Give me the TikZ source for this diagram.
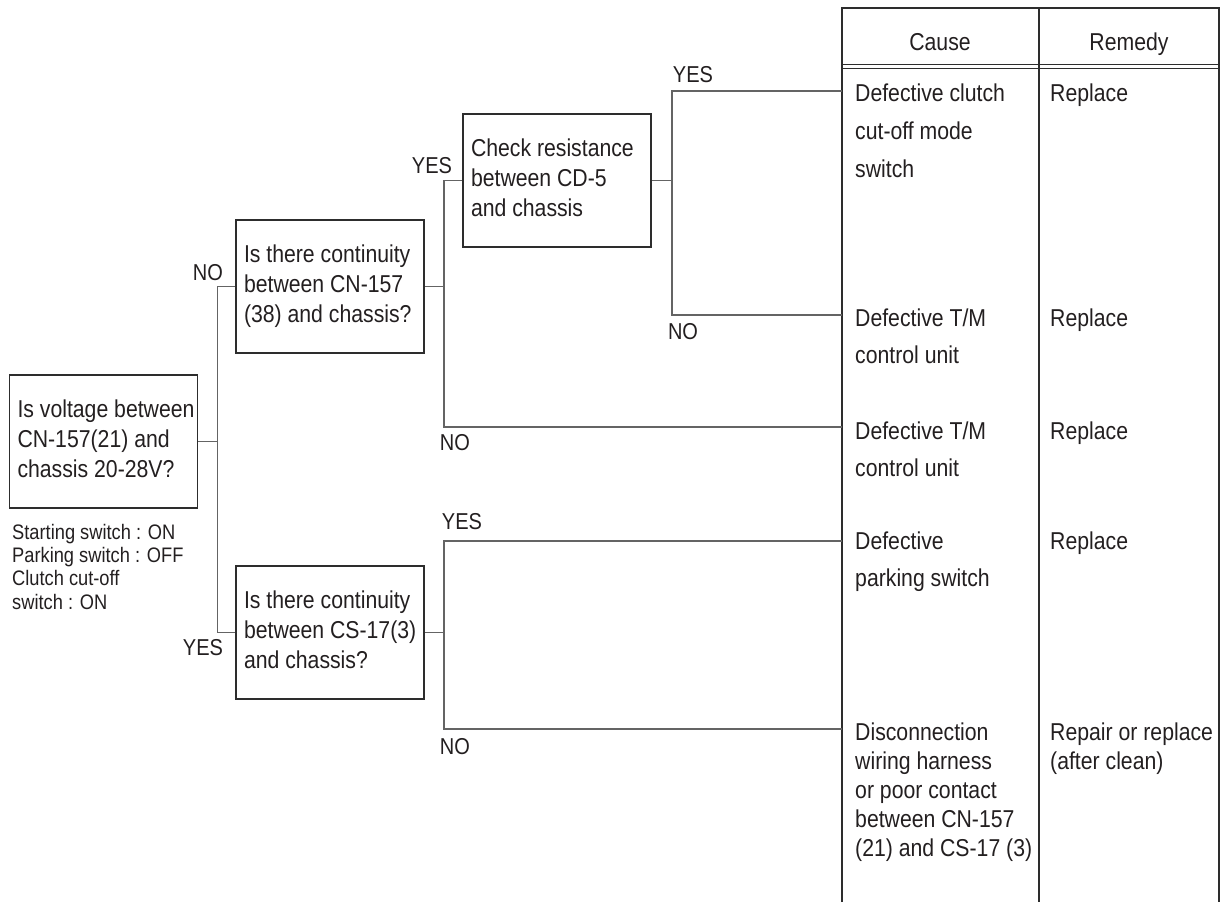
\documentclass[tikz,border=0pt]{standalone}
\usepackage{fontspec}
\setmainfont{Liberation Sans}[FakeStretch=0.87]
\definecolor{ink}{RGB}{35,31,32}
\definecolor{boxline}{RGB}{45,45,45}
\definecolor{connline}{RGB}{100,100,100}
\newcommand{\celltext}[2]{{\fontsize{24.4}{#1}\selectfont\begin{tabular}[t]{@{}l@{}}#2\end{tabular}}}
\newcommand{\boxtext}[1]{\makebox[172pt][l]{\fontsize{24.4}{30}\selectfont\begin{tabular}{@{}l@{}}#1\end{tabular}}}
\begin{document}
\begin{tikzpicture}[x=1pt,y=-1pt,
  every node/.style={text=ink, inner sep=0pt},
  qbox/.style={draw=boxline, line width=1.8pt, minimum width=188pt, minimum height=133pt, inner xsep=8pt, inner ysep=0pt},
  conn/.style={draw=connline, line width=1.4pt},
  tline/.style={draw=boxline, line width=1.8pt},
  dline/.style={draw=boxline, line width=1pt},
  lbl/.style={font=\fontsize{23}{23}\selectfont},
  head/.style={font=\fontsize{24.4}{30}\selectfont, anchor=base},
  ctext/.style={anchor=base west},
]
\useasboundingbox (0,0) rectangle (1222,902);

% question boxes
\node[qbox] (b1) at (103.5,441.5) {\boxtext{Is voltage between\\CN-157(21) and\\chassis 20-28V?}};
\node[qbox] (b2) at (330,286.5) {\boxtext{Is there continuity\\between CN-157\\(38) and chassis?}};
\node[qbox] (b3) at (557,180.5) {\boxtext{Check resistance\\between CD-5\\and chassis}};
\node[qbox] (b4) at (330,632.5) {\boxtext{Is there continuity\\between CS-17(3)\\and chassis?}};

% conditions note
\node[anchor=base west] (note) at (12,539) {{\fontsize{21}{23.4}\selectfont\begin{tabular}[t]{@{}l@{}}Starting switch : ON\\Parking switch : OFF\\Clutch cut-off\\switch : ON\end{tabular}}};

% table frame
\draw[tline] (842,902) -- (842,8) -- (1219,8) -- (1219,902);
\draw[tline] (1039,8) -- (1039,902);
\draw[dline] (842,64.5) -- (1219,64.5);
\draw[dline] (842,68.5) -- (1219,68.5);
\node[head] (hcause) at (940,50) {Cause};
\node[head] (hremedy) at (1129,50) {Remedy};

% cause / remedy cells
\node[ctext] (cause1) at (855,101.7) {\celltext{38}{Defective clutch\\cut-off mode\\switch}};
\node[ctext] (rem1) at (1050,101.7) {\celltext{38}{Replace}};
\node[ctext] (cause2) at (855,326.7) {\celltext{37}{Defective T/M\\control unit}};
\node[ctext] (rem2) at (1050,326.7) {\celltext{37}{Replace}};
\node[ctext] (cause3) at (855,439.7) {\celltext{37}{Defective T/M\\control unit}};
\node[ctext] (rem3) at (1050,439.7) {\celltext{37}{Replace}};
\node[ctext] (cause4) at (855,549.7) {\celltext{37}{Defective\\parking switch}};
\node[ctext] (rem4) at (1050,549.7) {\celltext{37}{Replace}};
\node[ctext] (cause5) at (855,740.7) {\celltext{29}{Disconnection\\wiring harness\\or poor contact\\between CN-157\\(21) and CS-17 (3)}};
\node[ctext] (rem5) at (1050,740.7) {\celltext{29}{Repair or replace\\(after clean)}};

% connector ends at the table
\coordinate (c1) at (842,91);
\coordinate (c2) at (842,315);
\coordinate (c3) at (842,427);
\coordinate (c4) at (842,541);
\coordinate (c5) at (842,729);

% connectors
\draw[conn] (b1.east) -- ++(19,0) coordinate (j1);
\draw[conn] (b2.west) -| (j1) |- (b4.west);
\draw[conn] (b2.east) -- ++(19,0) coordinate (j2);
\draw[conn] (b3.west) -| (j2) |- (c3);
\draw[conn] (b3.east) -- ++(20,0) coordinate (j3);
\draw[conn] (c1) -| (j3) |- (c2);
\draw[conn] (b4.east) -- ++(19,0) coordinate (j4);
\draw[conn] (c4) -| (j4) |- (c5);

% branch labels
\node[lbl] (l1) at (208,273) {NO};
\node[lbl] (l2) at (203,648) {YES};
\node[lbl] (l3) at (432,166) {YES};
\node[lbl] (l4) at (455,443) {NO};
\node[lbl] (l5) at (693,75) {YES};
\node[lbl] (l6) at (683,332) {NO};
\node[lbl] (l7) at (462,522) {YES};
\node[lbl] (l8) at (455,747) {NO};
\end{tikzpicture}
\end{document}
